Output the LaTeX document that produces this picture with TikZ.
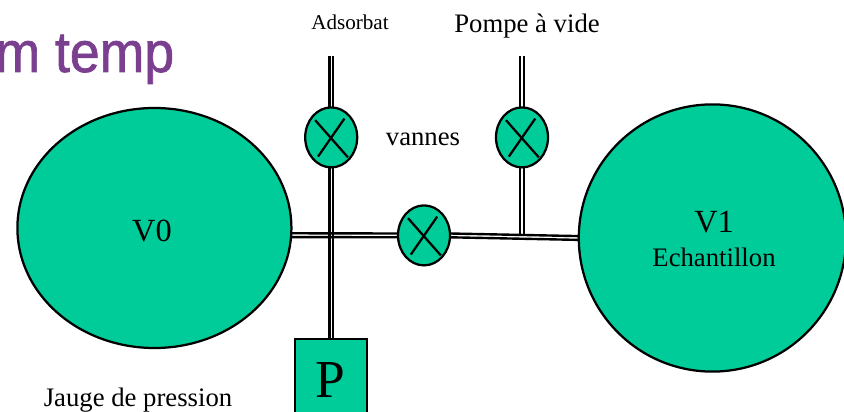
\documentclass[tikz,border=0pt]{standalone}
\usepackage{fontspec}
\setmainfont{Liberation Serif}
\newfontfamily\titlefont[FakeBold=1.2,FakeStretch=0.93]{Liberation Sans}
\usetikzlibrary{shapes.geometric}
\definecolor{vert}{HTML}{00CC99}
\definecolor{violet}{HTML}{7B3F8F}
\tikzset{
  chamber/.style={ellipse,draw=black,fill=vert,line width=1.6pt,inner sep=0pt,outer sep=0pt},
  vanne/.style={chamber,minimum width=1.3cm,minimum height=1.5cm,
    path picture={
      \draw[line width=1.6pt] ([shift={(-0.4,0.43)}]path picture bounding box.center) -- ([shift={(0.42,-0.5)}]path picture bounding box.center);
      \draw[line width=1.6pt] ([shift={(0.33,0.47)}]path picture bounding box.center) -- ([shift={(-0.33,-0.48)}]path picture bounding box.center);
    }},
  pipeline/.style={line width=1.7pt},
  small/.style={font=\fontsize{15}{18}\selectfont},
  medium/.style={font=\fontsize{19}{22}\selectfont},
  large/.style={font=\fontsize{23}{27}\selectfont}
}
\begin{document}
\begin{tikzpicture}
  \useasboundingbox (0,0) rectangle (21.1,10.275);
  \node[anchor=base west,inner sep=0pt,text=violet,font=\titlefont\fontsize{41}{48}\selectfont] (titre) at (-0.12,8.475) {m temp};
  % volumes
  \node[chamber,minimum width=6.85cm,minimum height=6cm] (V0) at (3.86,4.575) {};
  \node[large] (nomV0) at (3.8,4.5) {V0};
  \node[chamber,minimum width=6.68cm,minimum height=6.68cm] (V1) at (17.81,4.325) {};
  \node[large] (nomV1) at (17.85,4.73) {V1};
  \node[medium] (echantillon) at (17.85,3.85) {Echantillon};
  % vannes
  \node[vanne] (vanneA) at (8.28,6.84) {};
  \node[vanne] (vanneB) at (13.05,6.84) {};
  \node[vanne] (vanneC) at (10.6,4.39) {};
  % jauge
  \node[rectangle,draw=black,fill=vert,line width=1.6pt,outer sep=0pt,minimum width=1.8cm,minimum height=2.3cm] (P) at (8.27,0.65) {};
  \node[font=\fontsize{38}{44}\selectfont] (nomP) at (8.27,0.78) {P};
  \coordinate (entree) at (8.28,8.87);
  \coordinate (sortie) at (13.05,8.87);
  \coordinate (tee) at (13.05,4.37);
  % tuyaux
  \foreach \s in {-1.35pt,1.35pt} {
    \draw[pipeline,transform canvas={xshift=\s}] (entree) -- (vanneA);
    \draw[pipeline,transform canvas={xshift=\s}] (vanneA) -- (vanneA |- P.north);
    \draw[pipeline,transform canvas={xshift=\s}] (sortie) -- (vanneB);
    \draw[pipeline,transform canvas={xshift=\s}] (vanneB) -- (tee);
    \draw[pipeline,transform canvas={yshift=\s}] (V0.-3) -- (vanneC.west);
    \draw[pipeline,transform canvas={yshift=\s}] (vanneC.east) -- (V1.180);
  }
  % textes
  \node[small] (adsorbat) at (8.75,9.725) {Adsorbat};
  \node[medium] (pompe) at (13.175,9.625) {Pompe à vide};
  \node[medium] (vannes) at (10.575,6.8) {vannes};
  \node[medium] (jauge) at (3.45,0.27) {Jauge de pression};
\end{tikzpicture}
\end{document}
